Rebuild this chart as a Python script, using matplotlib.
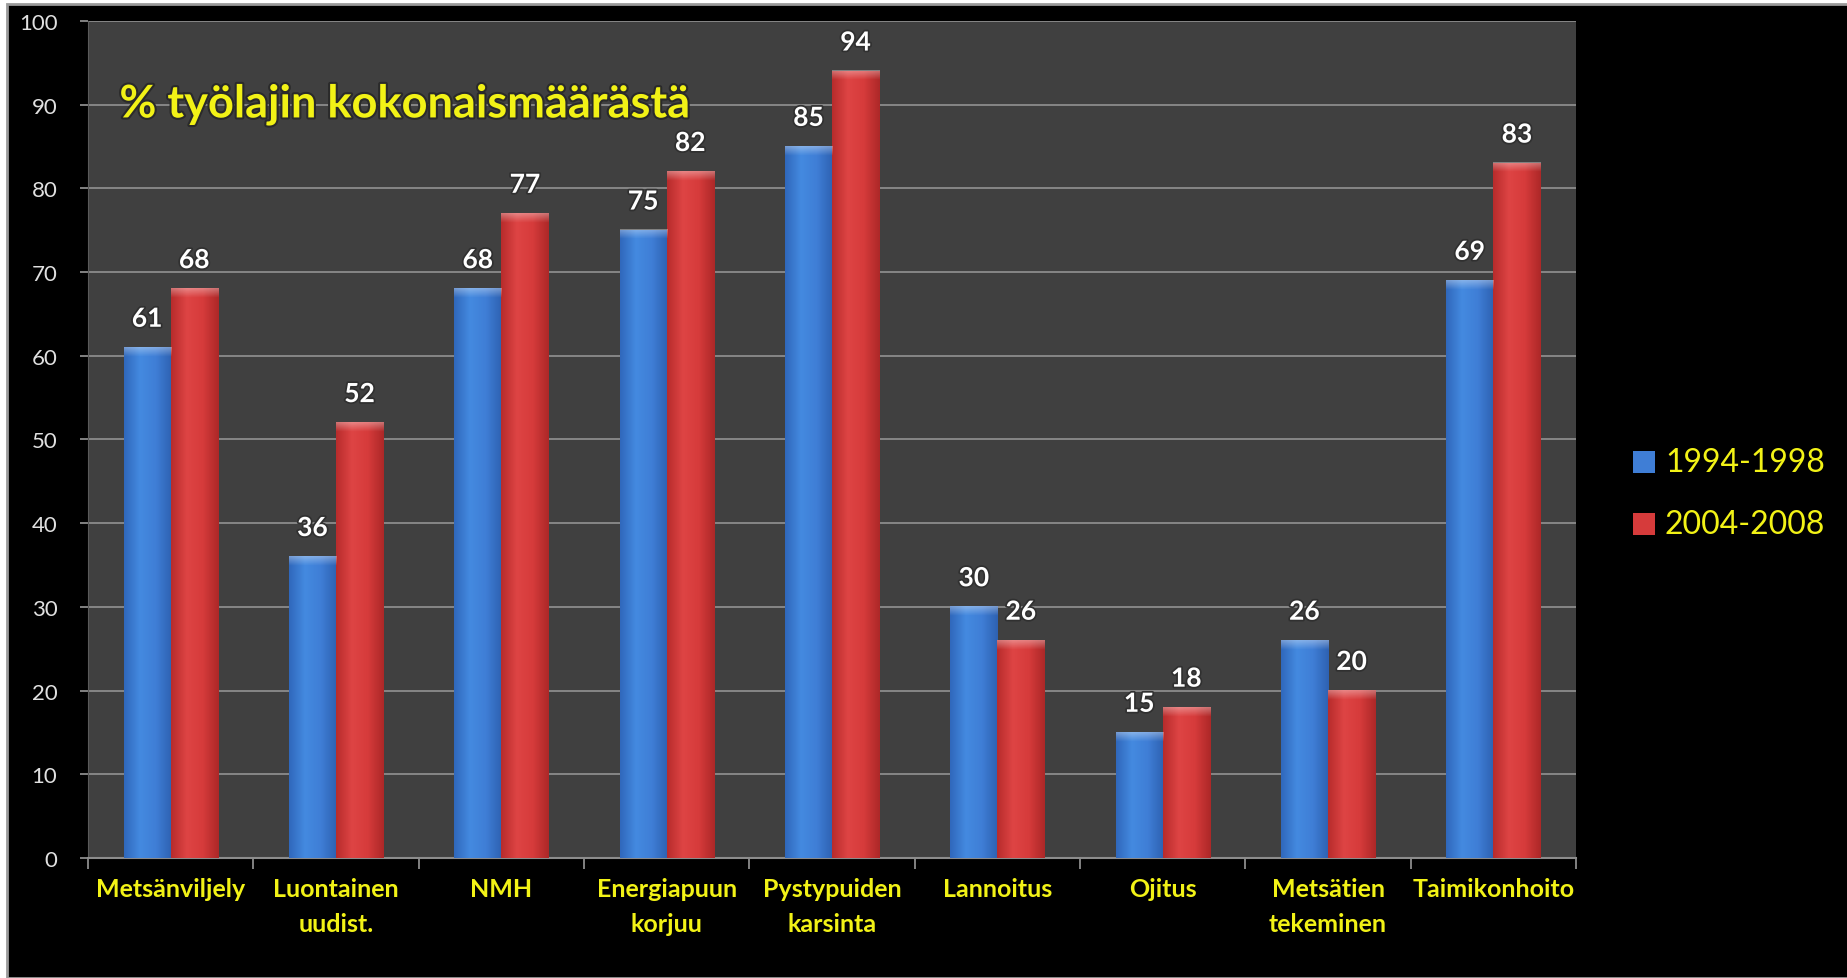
import matplotlib
matplotlib.use("Agg")
import matplotlib.pyplot as plt
import matplotlib.patheffects as pe
from matplotlib.colors import LinearSegmentedColormap
from matplotlib.patches import Rectangle
import numpy as np

# ── data ─────────────────────────────────────────────────────────────────────
categories = ["Metsänviljely", "Luontainen\nuudist.", "NMH", "Energiapuun\nkorjuu",
              "Pystypuiden\nkarsinta", "Lannoitus", "Ojitus", "Metsätien\ntekeminen",
              "Taimikonhoito"]
series_names = ["1994-1998", "2004-2008"]
vals_9498 = [61, 36, 68, 75, 85, 30, 15, 26, 69]
vals_0408 = [68, 52, 77, 82, 94, 26, 18, 20, 83]
title_text = "% työlajin kokonaismäärästä"

plt.rcParams["font.family"] = ["Lato", "DejaVu Sans"]

YELLOW = "#f2f216"
PLOT_BG = "#404040"
GRID = "#8c8c8c"
BLUE_CM = LinearSegmentedColormap.from_list("b", ["#3068bc", "#448ae0", "#3f7ed6", "#2e62b2"])
RED_CM = LinearSegmentedColormap.from_list("r", ["#b82c2c", "#de4444", "#d63b3b", "#ad2828"])

fig = plt.figure(figsize=(18.47, 9.79), dpi=100, facecolor="white")
# black slide background with thin grey frame
fig.patches.append(Rectangle((7 / 1847, 0), 1, 1 - 5 / 979, transform=fig.transFigure,
                             facecolor="black", edgecolor="#9a9a9a", lw=2, zorder=-10))

ax = fig.add_axes([88 / 1847, 1 - 859 / 979, (1576 - 88) / 1847, (859 - 22) / 979])
ax.set_facecolor(PLOT_BG)

x = np.arange(len(categories))
w = 0.285
grad = np.linspace(0, 1, 64).reshape(1, -1)
cap = np.linspace(1, 0, 16).reshape(-1, 1)

def draw_bars(xs, vals, cmap):
    for xi, v in zip(xs, vals):
        l, r = xi - w / 2, xi + w / 2
        ax.imshow(grad, cmap=cmap, aspect="auto", extent=(l, r, 0, v),
                  interpolation="bicubic", zorder=3)
        # soft light bevel at the top
        ax.imshow(np.dstack([np.ones((16, 1, 3)), cap[:, :, None] * 0.35]),
                  aspect="auto", extent=(l, r, v - 1.1, v), zorder=4)

draw_bars(x - w / 2, vals_9498, BLUE_CM)
draw_bars(x + w / 2, vals_0408, RED_CM)

lbl_fx = [pe.withStroke(linewidth=2.5, foreground="#303030")]
for xs, vals in [(x - w / 2, vals_9498), (x + w / 2, vals_0408)]:
    for xi, v in zip(xs, vals):
        ax.annotate(str(v), (xi, v), xytext=(0, 12), textcoords="offset points",
                    ha="center", va="bottom", color="white", fontsize=19,
                    fontweight="bold", path_effects=lbl_fx, zorder=5)

ax.set_xlim(-0.5, len(categories) - 0.5)
ax.set_ylim(0, 100)
ax.set_yticks(range(0, 101, 10))
ax.yaxis.grid(True, color=GRID, lw=1.3)
ax.set_axisbelow(True)

ax.set_xticks(x)
ax.set_xticklabels(categories, color=YELLOW, fontsize=18, fontweight="bold",
                   linespacing=1.6, va="top")
ax.tick_params(axis="x", length=0, pad=14)
ax.set_xticks(np.arange(-0.5, len(categories)), minor=True)
ax.tick_params(axis="x", which="minor", length=8, color=GRID, width=1.3)
ax.tick_params(axis="y", length=6, color=GRID, width=1.3, labelcolor="#e0e0e0",
               labelsize=16, pad=16)
for s in ["top", "right"]:
    ax.spines[s].set_visible(False)
ax.spines["bottom"].set_color(GRID)
ax.spines["bottom"].set_linewidth(1.5)
ax.spines["left"].set_color("#5a5a5a")

ax.text(-0.31, 90, title_text, color=YELLOW, fontsize=32.5, fontweight="bold",
        va="center", ha="left", zorder=6,
        path_effects=[pe.withStroke(linewidth=3, foreground="#2a2a2a")])

# legend (custom, right of plot)
leg_colors = ["#3f7ed6", "#d63b3b"]
for i, (name, c) in enumerate(zip(series_names, leg_colors)):
    yc = 1 - (463 + 62 * i) / 979
    fig.patches.append(Rectangle((1633 / 1847, yc - 11 / 979), 22 / 1847, 22 / 979,
                                 transform=fig.transFigure, facecolor=c, lw=0))
    fig.text(1665 / 1847, yc, name, color=YELLOW, fontsize=23, va="center", ha="left")

fig.savefig("out.png", dpi=100, facecolor=fig.get_facecolor())
